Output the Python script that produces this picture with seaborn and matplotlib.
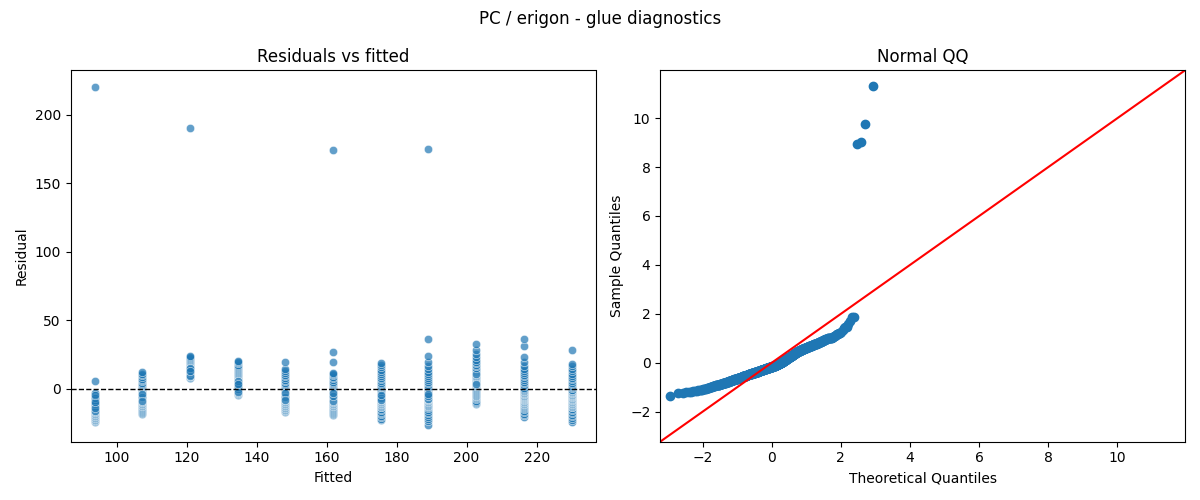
import numpy as np
import pandas as pd
import matplotlib
matplotlib.use('Agg')
import matplotlib.pyplot as plt
import seaborn as sns
from statistics import NormalDist

# ── fitted level of each group (x position of the columns) ──
fitted_levels = [93.7, 107.3, 121.0, 134.6, 148.2, 161.9, 175.5, 189.1, 202.7, 216.4, 230.0]

# ── residuals, one list per fitted level ──
res_g0 = [220.0, 5.5,
          -24.3, -23.6, -23.0, -22.6, -22.1, -21.5, -21.0, -20.6, -20.1, -19.6,
          -19.0, -18.6, -18.1, -17.5, -17.0, -16.6, -16.1, -15.5, -15.0, -14.6,
          -14.1, -13.6, -13.2, -12.7, -12.1, -11.7, -11.2, -10.8, -10.3, -9.9,
          -9.4, -9.0, -8.6, -8.1, -7.7, -7.2, -6.8, -6.4, -5.9, -5.5,
          -5.1, -4.7, -4.3, -3.9, -3.5, -3.0, -12.4, -16.3, -10.0,
          -6.1, -8.3, -11.4, -13.9, -7.0, -9.6, -4.5]
res_g1 = [-18.2, -17.4, -16.8, -16.0, -15.3, -14.7, -14.0,
          -13.4, -12.9, -12.4, -11.9, -11.4, -10.9, -10.4, -9.9, -9.4, -8.9, -8.5, -8.1,
          -7.7, -7.3, -6.9, -6.5, -6.1, -5.7, -5.3, -4.9, -4.5, -4.1, -3.7, -3.3, -2.9,
          -2.5, -2.1, -1.7, -1.3,
          -0.8, -0.2, 0.5, 1.2, 2.0, 2.8, 3.6, 4.5, 5.4, 6.4, 7.5, 8.7,
          10.0, 11.1, 12.2, -6.3, -4.0, -8.7]
res_g2 = [190.0,
          7.8, 8.2, 8.6, 9.0, 9.4, 9.8, 10.2, 10.6, 11.0, 11.3, 11.6, 11.9, 12.2,
          12.5, 12.8, 13.1, 13.4, 13.7, 14.0, 14.3, 14.6, 14.9, 15.2, 15.5, 15.8,
          16.1, 16.4, 16.8, 17.2, 17.6, 18.0, 18.4, 18.8, 19.3, 19.8, 20.3, 20.9,
          21.6, 22.4, 23.0, 23.6, 10.0, 11.5, 12.0, 13.0, 14.5, 9.2, 15.0, 12.7]
res_g3 = [-4.4, -3.9, -3.4, -2.9, -2.4, -1.9, -1.4, -0.9, -0.4, 0.1, 0.6, 1.1, 1.6,
          2.1, 2.6, 3.1, 3.6, 4.1, 4.6, 5.1, 5.6, 6.1, 6.6, 7.1, 7.6, 8.1, 8.6, 9.1,
          9.7, 10.3, 10.9, 11.5, 12.1, 12.8, 13.5, 14.2, 15.0, 15.8, 16.7, 17.6,
          18.6, 19.5, 20.4, 0.0, 2.4, 4.4, 1.4, 5.8, -2.0, 3.4]
res_g4 = [-17.0, -16.4, -15.8, -15.2, -14.7, -14.2, -13.8,
          -13.3, -12.8, -12.3, -11.8, -11.3, -10.8, -10.3, -9.8, -9.3, -8.8, -8.4, -8.0,
          -7.6, -7.2, -6.8, -6.4, -6.0, -5.6, -5.2, -4.8, -4.4, -4.0, -3.6, -3.2, -2.8,
          -2.4, -2.0, -1.6, -1.2,
          -0.7, 0.0, 0.8, 1.6, 2.5, 3.4, 4.4, 5.4, 6.5, 7.7, 9.0,
          10.4, 11.8, 13.1, 14.4, 19.9, -5.8, -3.4, -7.9]
res_g5 = [174.0,
          -19.0, -18.2, -17.5, -16.8, -16.1, -15.4, -14.8, -14.2,
          -13.4, -12.9, -12.4, -11.9, -11.4, -10.9, -10.4, -9.9, -9.4, -8.9, -8.5, -8.1,
          -7.7, -7.3, -6.9, -6.5, -6.1, -5.7, -5.3, -4.9, -4.5, -4.1, -3.7, -3.3, -2.9,
          -2.5, -2.1, -1.7, -1.3,
          -0.8, -0.1, 0.7, 1.5, 2.4, 3.3, 4.3, 5.3, 6.4, 7.6, 8.9,
          10.1, 10.8, 11.4, 19.5, 27.2, -9.1, -5.2, -3.1]
res_g6 = [-23.1, -22.0, -20.9, -19.8, -18.7, -17.6, -16.6, -15.6, -14.6,
          -13.6, -13.0, -12.4, -11.9, -11.4, -10.9, -10.4, -9.9, -9.4, -8.9, -8.4, -8.0,
          -7.6, -7.2, -6.8, -6.3, -5.9, -5.5, -5.1, -4.7, -4.3, -3.9, -3.4, -3.0, -2.5,
          -2.1, -1.6, -1.2,
          -0.6, 0.3, 1.3, 2.3, 3.4, 4.5, 5.7, 6.9, 8.2, 9.5,
          10.9, 12.4, 14.0, 15.6, 17.2, 18.8, -6.6, -8.2, -4.4]
res_g7 = [175.0,
          -26.3, -23.5, -21.8, -20.4, -19.1, -17.8, -16.6, -15.4, -14.3,
          -13.4, -12.8, -12.2, -11.6, -11.0, -10.5, -10.0, -9.5, -9.0, -8.5, -8.0,
          -7.6, -7.2, -6.8, -6.3, -5.9, -5.5, -5.1, -4.7, -4.3, -3.9, -3.4, -3.0, -2.5,
          -2.1, -1.6, -1.2,
          -0.5, 0.5, 1.6, 2.7, 3.9, 5.1, 6.4, 7.7, 9.1,
          10.6, 12.3, 14.2, 16.4, 19.2, 24.1, 36.5, -7.4, -5.0, -3.6]
res_g8 = [-11.0, -10.2, -9.4, -8.6,
          -7.8, -7.0, -6.3, -5.6, -4.9, -4.2, -3.5, -2.8, -2.1, -1.4,
          -0.7, -0.1, 0.5, 1.1, 1.7, 2.3, 2.9, 3.5, 4.1, 4.7, 5.3, 5.9, 6.5, 7.1,
          7.7, 8.3, 8.9, 9.5, 9.9, 3.2,
          10.5, 11.2, 11.9, 12.6, 13.3, 14.0, 14.7, 10.8,
          15.5, 16.4, 17.4, 18.5, 19.8, 21.3, 23.2, 25.5, 28.6, 32.8]
res_g9 = [-20.7, -19.4, -18.2, -17.0, -15.9, -14.8, -13.8,
          -13.2, -12.6, -12.0, -11.4, -10.9, -10.4, -9.9, -9.4, -8.9, -8.5, -8.1, -7.8,
          -7.4, -7.0, -6.6, -6.1, -5.7, -5.3, -4.9, -4.5, -4.1, -3.7, -3.2, -2.8, -2.3,
          -1.9, -1.4, -1.0,
          -0.4, 0.6, 1.7, 2.8, 4.0, 5.2, 6.5, 7.8, 9.2, 9.9,
          11.2, 12.9, 14.7, 16.8, 19.6, 23.1, 30.9, 36.5]
res_g10 = [-23.9, -22.6, -21.4, -20.2, -19.0, -17.9, -16.8, -15.7, -14.6,
           -13.6, -13.0, -12.4, -11.9, -11.4, -10.9, -10.4, -9.9, -9.4, -8.9, -8.4, -8.0,
           -7.6, -7.2, -6.8, -6.3, -5.9, -5.5, -5.1, -4.7, -4.3, -3.9, -3.4, -3.0, -2.5,
           -2.1, -1.6, -1.2,
           -0.6, 0.3, 1.3, 2.3, 3.4, 4.5, 5.7, 6.9, 8.2, 9.5,
           11.0, 12.8, 14.6, 16.3, 18.0, 28.5]

groups = [res_g0, res_g1, res_g2, res_g3, res_g4, res_g5,
          res_g6, res_g7, res_g8, res_g9, res_g10]

df = pd.DataFrame({
    'fitted': np.concatenate([[f] * len(g) for f, g in zip(fitted_levels, groups)]),
    'resid': np.concatenate(groups),
})

# standardised residuals for the QQ panel (loc/scale fitted to the data)
r = np.sort(df['resid'].values)
n = len(r)
sample_q = (r - r.mean()) / r.std()
theo_q = np.array([NormalDist().inv_cdf(i / (n + 1)) for i in range(1, n + 1)])

fig, axes = plt.subplots(1, 2, figsize=(12, 5), dpi=100)
fig.suptitle('PC / erigon - glue diagnostics')

ax = axes[0]
sns.scatterplot(data=df, x='fitted', y='resid', alpha=0.7, ax=ax)
ax.axhline(0, color='black', ls='--', lw=1)
ax.set_title('Residuals vs fitted')
ax.set_xlabel('Fitted'); ax.set_ylabel('Residual')

ax = axes[1]
ax.plot(theo_q, sample_q, marker='o', linestyle='none',
        markerfacecolor='C0', markeredgecolor='C0')
# 45-degree reference line spanning the common limits
end_pts = list(zip(ax.get_xlim(), ax.get_ylim()))
end_pts[0] = min(end_pts[0]); end_pts[1] = max(end_pts[1])
ax.plot(end_pts, end_pts, 'r-')
ax.set_xlim(end_pts); ax.set_ylim(end_pts)
ax.set_title('Normal QQ')
ax.set_xlabel('Theoretical Quantiles'); ax.set_ylabel('Sample Quantiles')

plt.tight_layout()
plt.savefig('out.png', dpi=100)
plt.close()
